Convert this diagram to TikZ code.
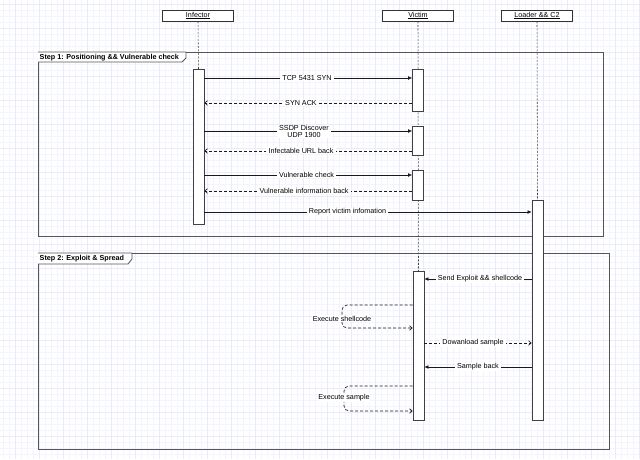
\documentclass[tikz,border=0pt]{standalone}
\usepackage{fontspec}
\setmainfont{Liberation Sans}
\usetikzlibrary{arrows.meta}
\definecolor{gridc}{RGB}{244,244,255}
\definecolor{gridm}{RGB}{234,234,254}
\definecolor{framec}{RGB}{85,85,85}
\pgfdeclarelayer{gridlayer}
\pgfdeclarelayer{bglayer}
\pgfsetlayers{gridlayer,bglayer,main}
\begin{document}
\begin{tikzpicture}[x=1pt,y=-1pt,
  font=\fontsize{7.2}{8}\selectfont,
  head/.style={draw=black!80, fill=white, minimum width=71pt, minimum height=11pt, inner sep=0pt, line width=0.7pt},
  act/.style={draw=black!75, fill=white, minimum width=11pt, inner sep=0pt, anchor=north, line width=0.7pt},
  life/.style={draw=black!75, line width=0.55pt, dash pattern=on 2pt off 1.5pt},
  call/.style={draw=black!90, line width=0.65pt, -{Latex[length=4pt,width=3.8pt]}},
  ret/.style={draw=black!90, line width=0.65pt, dash pattern=on 3pt off 2pt, -{Straight Barb[length=2.6pt,width=4.6pt]}},
  lbl/.style={fill=white, inner xsep=2.2pt, inner ysep=0.8pt},
  frame/.style={draw=framec, line width=0.8pt},
  steplbl/.style={font=\bfseries\fontsize{7.2}{8}\selectfont, anchor=west, inner sep=1pt}
]
\useasboundingbox (0,0) rectangle (640,459);
\begin{pgfonlayer}{gridlayer}
  \fill[white] (0,0) rectangle (640,459);
  \foreach \i in {0,...,106} {\draw[gridc, line width=0.4pt] ({2.7+6*\i},0) -- ({2.7+6*\i},459);}
  \foreach \j in {0,...,76} {\draw[gridc, line width=0.4pt] (0,{4+6*\j}) -- (640,{4+6*\j});}
  \foreach \i in {0,...,26} {\draw[gridm, line width=0.4pt] ({14.7+24*\i},0) -- ({14.7+24*\i},459);}
  \foreach \j in {0,...,19} {\draw[gridm, line width=0.4pt] (0,{4+24*\j}) -- (640,{4+24*\j});}
\end{pgfonlayer}

% lifeline heads
\node[head] (inf) at (198,15.5) {\underline{Infector}};
\node[head] (vic) at (418,15.5) {\underline{Victim}};
\node[head] (ldr) at (537,15.5) {\underline{Loader \&\& C2}};

% frames
\begin{pgfonlayer}{bglayer}
  \draw[frame] (38,52) rectangle (603,236);
  \draw[frame, fill=white] (38,52) -- (186,52) -- (186,58) -- (182,62) -- (38,62);
  \draw[frame] (38,253) rectangle (609,449);
  \draw[frame, fill=white] (38,253) -- (132,253) -- (132,259) -- (128,264) -- (38,264);
\end{pgfonlayer}
\node[steplbl] (s1) at (38.5,57.5) {Step 1: Positioning \&\& Vulnerable check};
\node[steplbl] (s2) at (38.5,259) {Step 2: Exploit \& Spread};

% activations
\node[act, minimum height=155pt] (ia) at (198.5,69) {};
\node[act, minimum height=42pt] (va1) at (418,69) {};
\node[act, minimum height=29pt] (va2) at (418,126) {};
\node[act, minimum height=30pt] (va3) at (418,170) {};
\node[act, minimum height=149pt] (va4) at (418.5,271) {};
\node[act, minimum height=220pt] (la) at (537.5,200) {};

% lifelines
\begin{pgfonlayer}{bglayer}
  \draw[life] (inf.south) -- (ia.north);
  \draw[life] (vic.south) -- (va4.north);
  \draw[life] (ldr.south) -- (la.north);
\end{pgfonlayer}

% step 1 messages
\draw[call] (ia.east |- 0,78) -- (va1.west |- 0,78);
\node[lbl] (l1) at (307,78) {TCP 5431 SYN};
\draw[ret] (va1.west |- 0,103) -- (ia.east |- 0,103);
\node[lbl] (l2) at (301,103) {SYN ACK};
\draw[call] (ia.east |- 0,131) -- (va2.west |- 0,131);
\node[lbl, align=center, font=\fontsize{7.2}{7.4}\selectfont, inner ysep=0.3pt] (l3) at (304,131.5) {SSDP Discover\\UDP 1900};
\draw[ret] (va2.west |- 0,151) -- (ia.east |- 0,151);
\node[lbl] (l4) at (301,151) {Infectable URL back};
\draw[call] (ia.east |- 0,175) -- (va3.west |- 0,175);
\node[lbl] (l5) at (306.5,175) {Vulnerable check};
\draw[ret] (va3.west |- 0,191) -- (ia.east |- 0,191);
\node[lbl] (l6) at (304,191) {Vulnerable information back};
\draw[call] (ia.east |- 0,212) -- (la.west |- 0,212);
\node[lbl] (l7) at (347.5,212) {Report victim infomation};

% step 2 messages
\draw[call] (la.west |- 0,279) -- (va4.east |- 0,279);
\node[lbl] (l8) at (480,279) {Send Exploit \&\& shellcode};
\draw[ret, rounded corners=5pt] (va4.west |- 0,305) -- (342,305) -- (342,328) -- (va4.west |- 0,328);
\node[lbl, inner xsep=0.5pt] (l9) at (342,318.5) {Execute shellcode};
\draw[ret] (va4.east |- 0,343) -- (la.west |- 0,343);
\node[lbl] (l10) at (473,343) {Dowanload sample};
\draw[call] (la.west |- 0,367) -- (va4.east |- 0,367);
\node[lbl] (l11) at (478,367) {Sample back};
\draw[ret, rounded corners=5pt] (va4.west |- 0,386) -- (344,386) -- (344,411) -- (va4.west |- 0,411);
\node[lbl, inner xsep=0.5pt] (l12) at (344,398) {Execute sample};
\end{tikzpicture}
\end{document}
